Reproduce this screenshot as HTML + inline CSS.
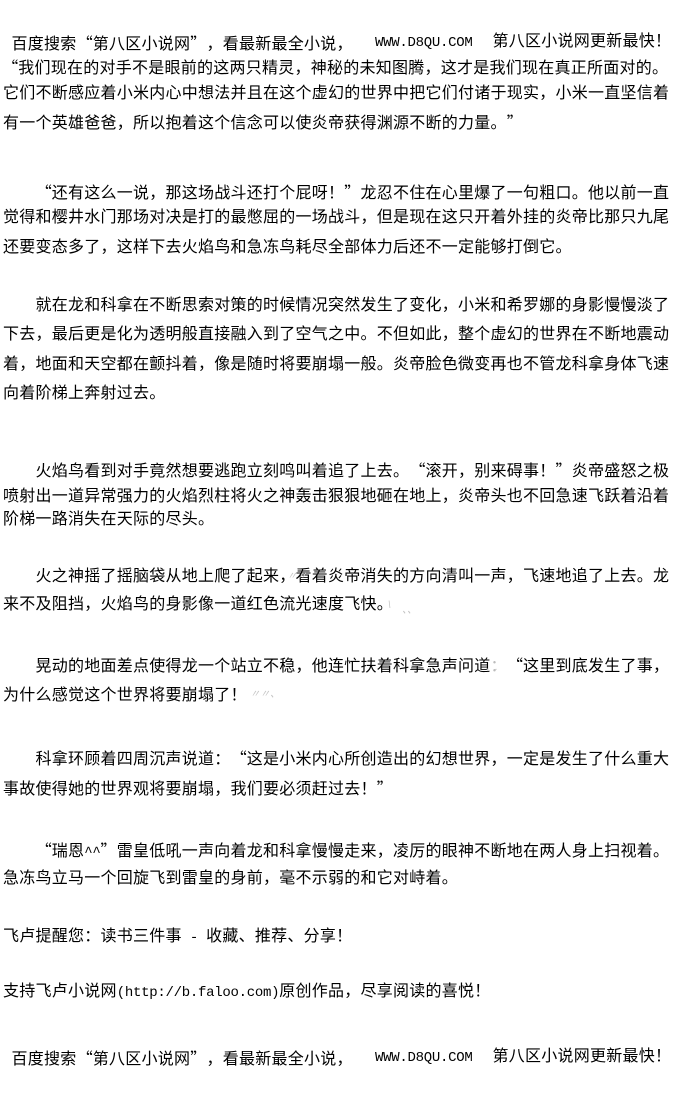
<!DOCTYPE html>
<html>
<head>
<meta charset="utf-8">
<style>
html,body{margin:0;padding:0;background:#fff;}
body{width:700px;height:1100px;position:relative;overflow:hidden;}
.l{position:absolute;white-space:pre;font-family:"Liberation Sans","Noto Sans CJK SC",sans-serif;font-size:16px;line-height:16px;letter-spacing:0.25px;color:#000;}
.l i{font-style:normal;display:inline-block;width:16.25px;font-family:"Noto Sans CJK SC","Liberation Sans",sans-serif;letter-spacing:0;line-height:16px;}
.l i.o{text-align:right;}
.l i.c{text-align:left;}
.m{font-family:"Liberation Mono",monospace;font-size:14px;letter-spacing:-0.275px;line-height:0;}
.f{position:absolute;color:#c4c4c4;font-family:"Liberation Sans","Noto Sans CJK SC",sans-serif;font-size:10px;line-height:10px;font-style:italic;white-space:pre;}
</style>
</head>
<body>
<div class="l" style="top:34px;left:11.5px">百度搜索<i class="o">“</i>第八区小说网<i class="c">”</i>，看最新最全小说，</div>
<div class="l" style="top:34px;left:375px"><span class="m">WWW.D8QU.COM</span></div>
<div class="l" style="top:34px;left:492.5px">第八区小说网更新最快！</div>

<div class="l" style="top:58px;left:2px"><i class="o">“</i>我们现在的对手不是眼前的这两只精灵，神秘的未知图腾，这才是我们现在真正所面对的。</div>
<div class="l" style="top:86px;left:3px">它们不断感应着小米内心中想法并且在这个虚幻的世界中把它们付诸于现实，小米一直坚信着</div>
<div class="l" style="top:113px;left:3px">有一个英雄爸爸，所以抱着这个信念可以使炎帝获得渊源不断的力量。<i class="c">”</i></div>

<div class="l" style="top:183px;left:35.5px"><i class="o">“</i>还有这么一说，那这场战斗还打个屁呀！<i class="c">”</i>龙忍不住在心里爆了一句粗口。他以前一直</div>
<div class="l" style="top:210px;left:3px">觉得和樱井水门那场对决是打的最憋屈的一场战斗，但是现在这只开着外挂的炎帝比那只九尾</div>
<div class="l" style="top:240px;left:3px">还要变态多了，这样下去火焰鸟和急冻鸟耗尽全部体力后还不一定能够打倒它。</div>

<div class="l" style="top:298px;left:35.5px">就在龙和科拿在不断思索对策的时候情况突然发生了变化，小米和希罗娜的身影慢慢淡了</div>
<div class="l" style="top:327px;left:3px">下去，最后更是化为透明般直接融入到了空气之中。不但如此，整个虚幻的世界在不断地震动</div>
<div class="l" style="top:357px;left:3px">着，地面和天空都在颤抖着，像是随时将要崩塌一般。炎帝脸色微变再也不管龙科拿身体飞速</div>
<div class="l" style="top:386px;left:3px">向着阶梯上奔射过去。</div>

<div class="l" style="top:461px;left:35.5px">火焰鸟看到对手竟然想要逃跑立刻鸣叫着追了上去。<i class="o">“</i>滚开，别来碍事！<i class="c">”</i>炎帝盛怒之极</div>
<div class="l" style="top:489px;left:3px">喷射出一道异常强力的火焰烈柱将火之神轰击狠狠地砸在地上，炎帝头也不回急速飞跃着沿着</div>
<div class="l" style="top:512px;left:3px">阶梯一路消失在天际的尽头。</div>

<div class="l" style="top:569px;left:35.5px">火之神摇了摇脑袋从地上爬了起来，看着炎帝消失的方向清叫一声，飞速地追了上去。龙</div>
<div class="f" style="top:572px;left:287px">〃〃</div>
<div class="l" style="top:597px;left:3px">来不及阻挡，火焰鸟的身影像一道红色流光速度飞快。</div>
<div class="f" style="top:601px;left:388px">\</div>
<div class="f" style="top:606px;left:402px">、、</div>

<div class="l" style="top:656px;left:35.5px">晃动的地面差点使得龙一个站立不稳，他连忙扶着科拿急声问道<i style="color:#bbb">：</i><i class="o">“</i>这里到底发生了事，</div>
<div class="f" style="top:663px;left:485px">、.</div>
<div class="l" style="top:688px;left:3px">为什么感觉这个世界将要崩塌了！</div>
<div class="f" style="top:690px;left:250px">〃〃、</div>

<div class="l" style="top:749px;left:35.5px">科拿环顾着四周沉声说道：<i class="o">“</i>这是小米内心所创造出的幻想世界，一定是发生了什么重大</div>
<div class="l" style="top:779px;left:3px">事故使得她的世界观将要崩塌，我们要必须赶过去！<i class="c">”</i></div>

<div class="l" style="top:841px;left:35.5px"><i class="o">“</i>瑞恩<span class="m">^^</span><i class="c">”</i>雷皇低吼一声向着龙和科拿慢慢走来，凌厉的眼神不断地在两人身上扫视着。</div>
<div class="l" style="top:871px;left:3px">急冻鸟立马一个回旋飞到雷皇的身前，毫不示弱的和它对峙着。</div>

<div class="l" style="top:929px;left:3px">飞卢提醒您：读书三件事<span class="m"> - </span>收藏、推荐、分享！</div>

<div class="l" style="top:984px;left:3px">支持飞卢小说网<span class="m">(http://b.faloo.com)</span>原创作品，尽享阅读的喜悦！</div>

<div class="l" style="top:1049px;left:11.5px">百度搜索<i class="o">“</i>第八区小说网<i class="c">”</i>，看最新最全小说，</div>
<div class="l" style="top:1049px;left:375px"><span class="m">WWW.D8QU.COM</span></div>
<div class="l" style="top:1049px;left:492.5px">第八区小说网更新最快！</div>
</body>
</html>
